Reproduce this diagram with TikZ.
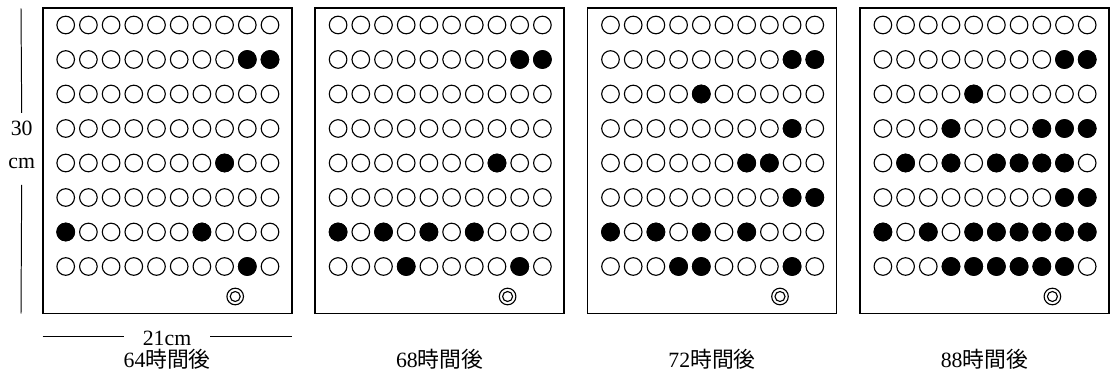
\documentclass[tikz,border=0pt]{standalone}
\usepackage{fontspec}
\setmainfont{Liberation Serif}
\newfontfamily\cjk{Noto Sans CJK JP}
\usetikzlibrary{positioning}

\tikzset{
  tray/.style={draw, line width=1.2pt},
  hole/.style={draw, line width=0.8pt},
  seed/.style={draw, fill=black, line width=0.8pt},
  dimline/.style={draw, line width=0.7pt},
  caption/.style={font=\fontsize{15.5}{18}\selectfont, inner sep=0pt},
}

% #1 left edge, #2 node name, #3 hours, #4 black cells (row/col)
\newcommand{\drawtray}[4]{%
  \draw[tray] (#1,8.3) rectangle (#1+249,313.5);
  \foreach \r in {1,...,8}
    \foreach \c in {1,...,10}
      \draw[hole] (#1+0.3+22.7*\c, -9.5+34.5*\r) circle (8.8);
  \foreach \r/\c in {#4}
    \fill[seed] (#1+0.3+22.7*\c, -9.5+34.5*\r) circle (8.8);
  \draw[hole] (#1+192.5,296.5) circle (8.3);
  \draw[hole] (#1+192.5,296.5) circle (5);
  \node[caption] (#2) at (#1+124.5,359) {#3{\cjk 時間後}};
}

\begin{document}
\begin{tikzpicture}[x=0.025cm, y=-0.025cm]
\useasboundingbox (0,0) rectangle (1115,372);

% 64 hours
\drawtray{42.7}{lab64}{64}{2/9,2/10,5/8,7/1,7/7,8/9}

% 68 hours
\drawtray{315.1}{lab68}{68}{2/9,2/10,5/8,7/1,7/3,7/5,7/7,8/4,8/9}

% 72 hours
\drawtray{587.5}{lab72}{72}{2/9,2/10,3/5,4/9,5/7,5/8,6/9,6/10,7/1,7/3,7/5,7/7,8/4,8/5,8/9}

% 88 hours
\drawtray{859.9}{lab88}{88}{2/9,2/10,3/5,4/4,4/8,4/9,4/10,5/2,5/4,5/6,5/7,5/8,5/9,6/9,6/10,7/1,7/3,7/5,7/6,7/7,7/8,7/9,7/10,8/4,8/5,8/6,8/7,8/8,8/9}

% height 30 cm
\node[caption] (hnum) at (21.7,128) {30};
\node[caption] (hunit) at (21.7,163) {cm};
\coordinate (htop) at (21,8.3);
\coordinate (hbot) at (21,313.5);
\draw[dimline] (htop) -- (hnum.north |- 0,113);
\draw[dimline] (hunit.south |- 0,185) -- (hbot);

% width 21 cm
\node[caption, inner xsep=13.5pt] (wlen) at (167,338) {21cm};
\coordinate (wleft) at (42.7,336);
\coordinate (wright) at (291.7,336);
\draw[dimline] (wleft) -- (wleft -| wlen.west);
\draw[dimline] (wright -| wlen.east) -- (wright);
\end{tikzpicture}
\end{document}
